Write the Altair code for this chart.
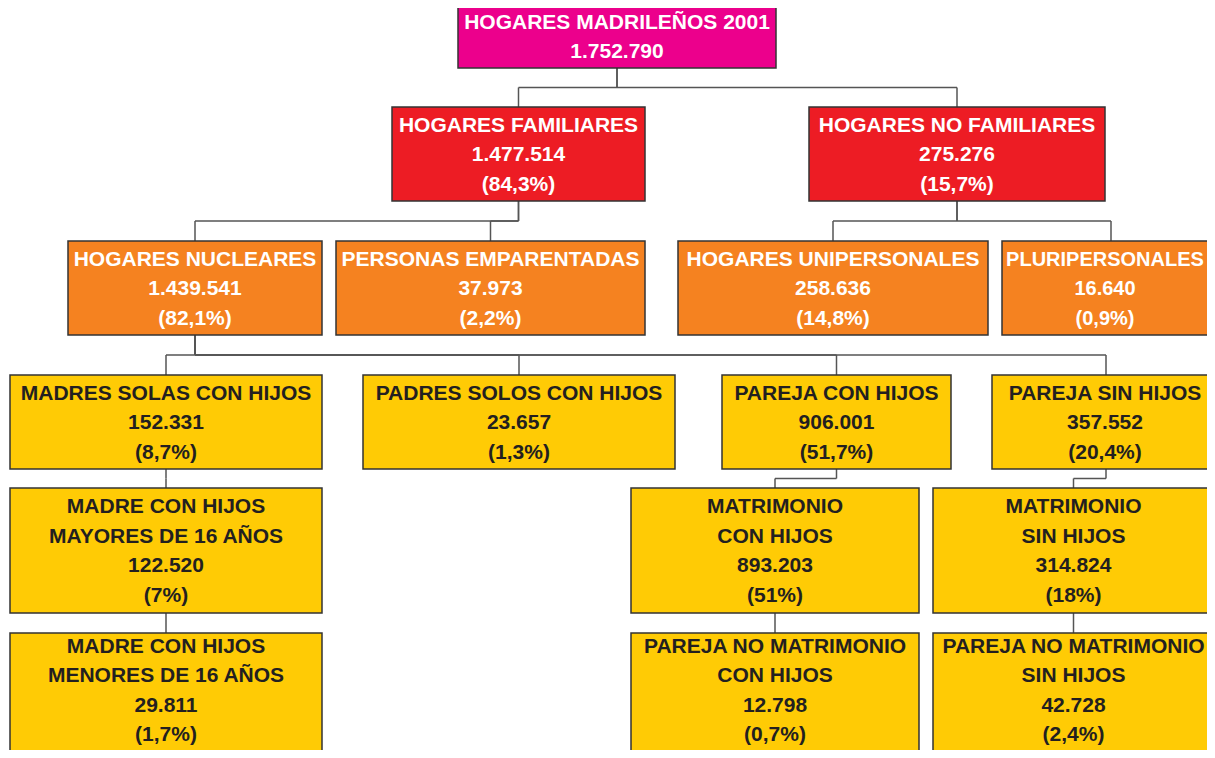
import altair as alt
import pandas as pd

# ---- content ----
labels = [
    "HOGARES MADRILEÑOS 2001",
    "HOGARES FAMILIARES",
    "HOGARES NO FAMILIARES",
    "HOGARES NUCLEARES",
    "PERSONAS EMPARENTADAS",
    "HOGARES UNIPERSONALES",
    "PLURIPERSONALES",
    "MADRES SOLAS CON HIJOS",
    "PADRES SOLOS CON HIJOS",
    "PAREJA CON HIJOS",
    "PAREJA SIN HIJOS",
    "MADRE CON HIJOS\nMAYORES DE 16 AÑOS",
    "MATRIMONIO\nCON HIJOS",
    "MATRIMONIO\nSIN HIJOS",
    "MADRE CON HIJOS\nMENORES DE 16 AÑOS",
    "PAREJA NO MATRIMONIO\nCON HIJOS",
    "PAREJA NO MATRIMONIO\nSIN HIJOS",
]
values = [
    "1.752.790", "1.477.514", "275.276", "1.439.541", "37.973", "258.636",
    "16.640", "152.331", "23.657", "906.001", "357.552", "122.520",
    "893.203", "314.824", "29.811", "12.798", "42.728",
]
percents = [
    "", "(84,3%)", "(15,7%)", "(82,1%)", "(2,2%)", "(14,8%)", "(0,9%)",
    "(8,7%)", "(1,3%)", "(51,7%)", "(20,4%)", "(7%)", "(51%)", "(18%)",
    "(1,7%)", "(0,7%)", "(2,4%)",
]
parents = [-1, 0, 0, 1, 1, 2, 2, 3, 3, 3, 3, 7, 9, 10, 11, 12, 13]
levels = [0, 1, 1, 2, 2, 2, 2, 3, 3, 3, 3, 3, 3, 3, 3, 3, 3]

# ---- layout (diagram positions, in page pixels) ----
box_x0 = [458, 392, 809, 68, 336, 678, 1002, 10, 363, 722, 992, 10, 631, 933, 10, 631, 933]
box_x1 = [776, 645, 1105, 322, 645, 988, 1220, 322, 675, 951, 1220, 322, 919, 1214, 322, 919, 1214]
box_y0 = [5, 107, 107, 241, 241, 241, 241, 375, 375, 375, 375, 488, 488, 488, 633, 633, 633]
box_y1 = [68, 201, 201, 335, 335, 335, 335, 469, 469, 469, 469, 613, 613, 613, 760, 760, 760]
text_size = [21, 21, 21, 21, 21, 21, 20, 21, 21, 21, 21, 21, 21, 21, 21, 21, 21]
TEXT_X_MAX = 1105
TEXT_Y_MAX = 690
LINE_H = 29.5
TEXT_DY = 1

# ---- styles ----
level_fill = ["#EC008C", "#ED1C24", "#F58220", "#FFCB05"]
level_text = ["#FFFFFF", "#FFFFFF", "#FFFFFF", "#231F20"]

rows = []
for i, lab in enumerate(labels):
    txt = lab + "\n" + values[i] + ("\n" + percents[i] if percents[i] else "")
    n = txt.count("\n") + 1
    cx = (box_x0[i] + box_x1[i]) / 2
    cy = min((box_y0[i] + box_y1[i]) / 2, TEXT_Y_MAX)
    rows.append({
        "x0": box_x0[i], "x1": box_x1[i], "y0": box_y0[i], "y1": box_y1[i],
        "tx": min(cx, TEXT_X_MAX), "ty": cy - (n - 1) / 2 * LINE_H + TEXT_DY,
        "size": text_size[i],
        "text": txt, "fill": level_fill[levels[i]], "tcolor": level_text[levels[i]],
    })
nodes = pd.DataFrame(rows)

segs = []
for c, p in enumerate(parents):
    if p < 0:
        continue
    px = (box_x0[p] + box_x1[p]) / 2
    pb = box_y1[p]
    cx = (box_x0[c] + box_x1[c]) / 2
    ct = box_y0[c]
    mid = (pb + ct) / 2
    segs.append({"x": px, "x2": px, "y": pb, "y2": mid})
    segs.append({"x": px, "x2": cx, "y": mid, "y2": mid})
    segs.append({"x": cx, "x2": cx, "y": mid, "y2": ct})
links = pd.DataFrame(segs)

W, H = 1199, 742
xs = alt.Scale(domain=[8, 8 + W], nice=False, zero=False)
ys = alt.Scale(domain=[8, 8 + H], nice=False, zero=False, reverse=True)

lines = alt.Chart(links).mark_rule(color="#555555", strokeWidth=1.5, clip=True).encode(
    x=alt.X("x:Q", scale=xs, axis=None),
    x2="x2:Q",
    y=alt.Y("y:Q", scale=ys, axis=None),
    y2="y2:Q",
)

boxes = alt.Chart(nodes).mark_rect(stroke="#333333", strokeWidth=1.5, clip=True).encode(
    x=alt.X("x0:Q", scale=xs, axis=None),
    x2="x1:Q",
    y=alt.Y("y0:Q", scale=ys, axis=None),
    y2="y1:Q",
    fill=alt.Fill("fill:N", scale=None),
)

texts = alt.Chart(nodes).mark_text(
    font="Liberation Sans", fontWeight="bold",
    lineBreak="\n", lineHeight=LINE_H, align="center", baseline="middle",
).encode(
    x=alt.X("tx:Q", scale=xs, axis=None),
    y=alt.Y("ty:Q", scale=ys, axis=None),
    text="text:N",
    size=alt.Size("size:Q", scale=None),
    color=alt.Color("tcolor:N", scale=None),
)

chart = alt.layer(lines, boxes, texts).properties(
    width=W, height=H, padding=0, autosize=alt.AutoSizeParams(type="none"),
    background="#FFFFFF",
).configure_view(stroke=None)

chart.save("out.html", embed_options={"renderer": "svg", "actions": False})
